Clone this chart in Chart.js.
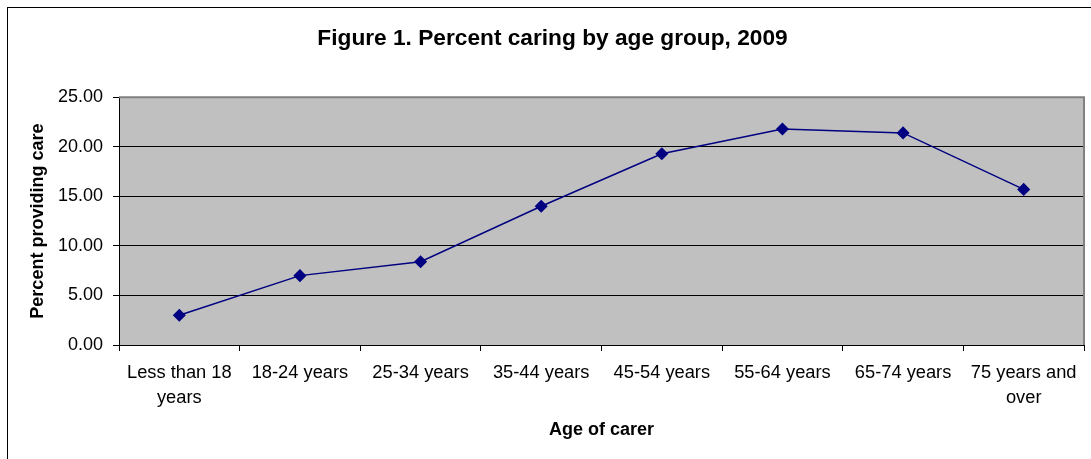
<!DOCTYPE html>
<html>
<head>
<meta charset="utf-8">
<script src="https://cdn.jsdelivr.net/npm/chart.js@4/dist/chart.umd.min.js"></script>
<style>
  html, body { margin: 0; padding: 0; background: #ffffff; }
  #wrap { width: 1091px; height: 459px; position: relative; }
</style>
</head>
<body>
<div id="wrap"><canvas id="c" width="1091" height="459"></canvas></div>
<script>
// Age groups of carers (multi-line labels are arrays)
const categories = [
  ['Less than 18', 'years'],
  '18-24 years',
  '25-34 years',
  '35-44 years',
  '45-54 years',
  '55-64 years',
  '65-74 years',
  ['75 years and', 'over']
];

// Percent of each age group providing care, 2009
const percentCaring = [3.0, 7.0, 8.4, 14.0, 19.3, 21.8, 21.4, 15.7];

// Value axis range and step
const yMin = 0;
const yMax = 25;
const yStep = 5;

const FONT = "'Liberation Sans', Arial, Helvetica, sans-serif";

// Grey plot background, grey frame on top/right, and the outer chart border
const plotFrame = {
  id: 'plotFrame',
  beforeDraw(chart) {
    const { ctx, chartArea: a } = chart;
    ctx.save();
    ctx.fillStyle = '#ffffff';
    ctx.fillRect(0, 0, chart.width, chart.height);
    ctx.strokeStyle = '#000000';
    ctx.lineWidth = 1;
    ctx.strokeRect(7.5, 7.5, chart.width + 20, chart.height + 20);
    ctx.fillStyle = '#c0c0c0';
    ctx.fillRect(a.left, a.top, a.right - a.left, a.bottom - a.top);
    ctx.restore();
  },
  beforeDatasetsDraw(chart) {
    const { ctx, chartArea: a } = chart;
    ctx.save();
    ctx.strokeStyle = '#808080';
    ctx.lineWidth = 2;
    ctx.beginPath();
    ctx.moveTo(a.left, a.top);
    ctx.lineTo(a.right, a.top);
    ctx.lineTo(a.right, a.bottom);
    ctx.stroke();
    ctx.restore();
  }
};

new Chart(document.getElementById('c'), {
  type: 'line',
  data: {
    labels: categories,
    datasets: [{
      data: percentCaring,
      borderColor: '#000080',
      backgroundColor: '#000080',
      borderWidth: 1.5,
      pointStyle: 'rectRot',
      pointRadius: 5.5,
      pointHoverRadius: 5.5,
      pointBackgroundColor: '#000080',
      pointBorderColor: '#000080',
      tension: 0,
      fill: false
    }]
  },
  options: {
    responsive: false,
    animation: false,
    devicePixelRatio: 1,
    layout: { padding: { left: 20, right: 6, top: 0, bottom: 0 } },
    plugins: {
      legend: { display: false },
      tooltip: { enabled: false },
      title: {
        display: true,
        text: 'Figure 1. Percent caring by age group, 2009',
        color: '#000000',
        font: { family: FONT, size: 22.7, weight: 'bold', lineHeight: 1.2 },
        padding: { top: 25, bottom: 45 }
      }
    },
    scales: {
      x: {
        type: 'category',
        offset: true,
        afterFit(scale) { scale.height = 114; },
        grid: {
          offset: true,
          drawOnChartArea: false,
          drawTicks: true,
          tickLength: 6,
          tickColor: '#000000',
          tickWidth: 1
        },
        border: { display: true, color: '#000000', width: 1 },
        ticks: {
          color: '#000000',
          font: { family: FONT, size: 18.3, lineHeight: 1.4 },
          padding: 9,
          maxRotation: 0,
          autoSkip: false
        },
        title: {
          display: true,
          text: 'Age of carer',
          color: '#000000',
          font: { family: FONT, size: 18, weight: 'bold', lineHeight: 1.2 },
          padding: { top: 0, bottom: 18 }
        }
      },
      y: {
        min: yMin,
        max: yMax,
        afterFit(scale) { scale.width = 99; },
        grid: {
          color: (c) => (c.tick && (c.tick.value === yMin || c.tick.value === yMax)) ? 'rgba(0,0,0,0)' : '#000000',
          lineWidth: 1,
          tickColor: '#000000',
          tickLength: 6,
          drawTicks: true
        },
        border: { display: true, color: '#000000', width: 1 },
        ticks: {
          stepSize: yStep,
          color: '#000000',
          font: { family: FONT, size: 18 },
          padding: 10,
          callback: (v) => Number(v).toFixed(2)
        },
        title: {
          display: true,
          text: 'Percent providing care',
          color: '#000000',
          font: { family: FONT, size: 18, weight: 'bold', lineHeight: 1.2 },
          padding: { top: 7, bottom: 0 }
        }
      }
    }
  },
  plugins: [plotFrame]
});
</script>
</body>
</html>
